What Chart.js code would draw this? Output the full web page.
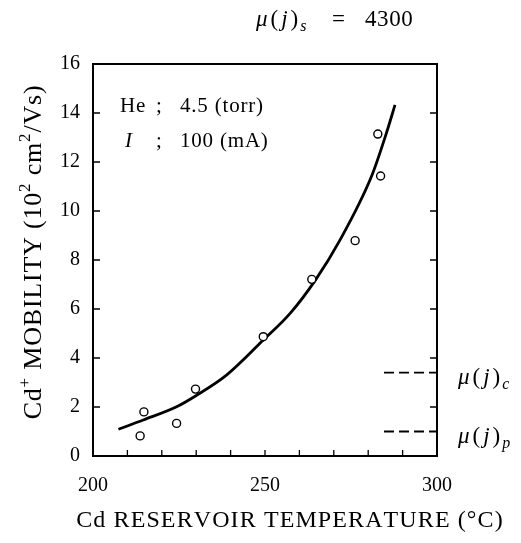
<!DOCTYPE html>
<html>
<head>
<meta charset="utf-8">
<script src="https://cdn.jsdelivr.net/npm/chart.js@4/dist/chart.umd.min.js"></script>
<style>
  html, body { margin: 0; padding: 0; background: #fff; }
  canvas { display: block; }
</style>
</head>
<body>
<canvas id="mobility" width="521" height="543"></canvas>
<script>
// measured Cd+ mobility (10^2 cm^2/Vs) vs reservoir temperature (°C)
const measTemp = [213.7, 214.8, 224.3, 229.8, 249.5, 263.6, 276.2, 282.8, 283.6];
const measMobility = [0.82, 1.80, 1.33, 2.73, 4.87, 7.21, 8.79, 13.14, 11.43];

// smooth curve drawn through the data
const curveTemp = [207.4, 214.6, 224.3, 229.8, 238.9, 249.5, 257.3, 264.8, 271.7, 281.0, 285.2, 287.8];
const curveMobility = [1.09, 1.47, 2.01, 2.45, 3.31, 4.73, 5.82, 7.21, 8.79, 11.43, 13.14, 14.33];

// theoretical levels marked at the right edge
const levelNames = ['c', 'p'];
const levelValues = [3.4, 1.0];
const levelFrom = 284.6;
const levelTo = 300;

const xLabels = [200, 250, 300];
const serif = '"Liberation Serif", "Times New Roman", serif';

const toXY = (xs, ys) => xs.map((v, i) => ({ x: v, y: ys[i] }));

// text drawn glyph by glyph with extra spacing, returns the end x
const spaced = (ctx, text, x, y, sp) => {
  for (const ch of text) {
    ctx.fillText(ch, x, y);
    x += ctx.measureText(ch).width + sp;
  }
  return x;
};
const spacedWidth = (ctx, text, sp) =>
  [...text].reduce((w, ch) => w + ctx.measureText(ch).width + sp, 0);

// mu(j) with a subscript, left edge at x, baseline y
const drawMu = (ctx, x, y, sub, size) => {
  const parts = [
    { t: 'μ', f: `italic ${size}px ${serif}` },
    { t: '(', f: `${size}px ${serif}` },
    { t: 'j', f: `italic ${size}px ${serif}` },
    { t: ')', f: `${size}px ${serif}` }
  ];
  parts.forEach(p => {
    ctx.font = p.f;
    ctx.fillText(p.t, x, y);
    x += ctx.measureText(p.t).width + 3;
  });
  ctx.font = `italic ${Math.round(size * 0.7)}px ${serif}`;
  ctx.fillText(sub, x - 1, y + size * 0.22);
  return x + ctx.measureText(sub).width;
};

// runs of text, some raised as superscripts
const runFont = (r, size) => `${r.sup ? Math.round(size * 0.66) : size}px ${serif}`;
const runsWidth = (ctx, runs, size, sp) => runs.reduce((w, r) => {
  ctx.font = runFont(r, size);
  return w + spacedWidth(ctx, r.t, sp);
}, 0);
const drawRuns = (ctx, runs, x, y, size, sp) => {
  runs.forEach(r => {
    ctx.font = runFont(r, size);
    x = spaced(ctx, r.t, x, r.sup ? y - size * 0.42 : y, sp);
  });
};

const frame = {
  id: 'frame',
  afterDraw(chart) {
    const { ctx, chartArea: a, scales: { x, y } } = chart;
    ctx.save();
    ctx.strokeStyle = '#000';
    ctx.lineWidth = 2;
    ctx.strokeRect(a.left, a.top, a.right - a.left, a.bottom - a.top);

    // inward tick marks
    ctx.lineWidth = 1.3;
    ctx.beginPath();
    x.ticks.forEach(t => {
      const px = x.getPixelForValue(t.value);
      ctx.moveTo(px, a.bottom);
      ctx.lineTo(px, a.bottom - 6);
    });
    y.ticks.forEach(t => {
      const py = y.getPixelForValue(t.value);
      ctx.moveTo(a.left, py);
      ctx.lineTo(a.left + 7, py);
      ctx.moveTo(a.right, py);
      ctx.lineTo(a.right - 7, py);
    });
    ctx.stroke();

    ctx.fillStyle = '#000';
    ctx.textBaseline = 'alphabetic';
    ctx.textAlign = 'left';

    // discharge conditions
    ctx.font = `21px ${serif}`;
    spaced(ctx, 'He', 120, 112, 0.8);
    ctx.fillText(';', 156, 112);
    spaced(ctx, '4.5 (torr)', 180, 112, 0.8);
    ctx.font = `italic 21px ${serif}`;
    ctx.fillText('I', 125, 147);
    ctx.font = `21px ${serif}`;
    ctx.fillText(';', 156, 147);
    spaced(ctx, '100 (mA)', 180, 147, 0.8);

    // level names beside the dashed lines
    levelNames.forEach((n, i) => {
      drawMu(ctx, a.right + 21, y.getPixelForValue(levelValues[i]) + 11, n, 23);
    });

    // mu(j)_s above the frame
    drawMu(ctx, 256, 26, 's', 23);
    ctx.font = `23px ${serif}`;
    ctx.fillText('=', 332, 26);
    spaced(ctx, '4300', 365, 26, 0.6);

    // x axis title
    ctx.font = `24px ${serif}`;
    const xt = 'Cd RESERVOIR TEMPERATURE (°C)';
    spaced(ctx, xt, 290 - spacedWidth(ctx, xt, 1.1) / 2, 527, 1.1);

    // y axis title, read bottom to top
    const size = 26;
    const runs = [
      { t: 'Cd' }, { t: '+', sup: true }, { t: ' MOBILITY (10' }, { t: '2', sup: true },
      { t: ' cm' }, { t: '2', sup: true }, { t: '/Vs)' }
    ];
    const w = runsWidth(ctx, runs, size, 0.8);
    ctx.translate(41, 252);
    ctx.rotate(-Math.PI / 2);
    drawRuns(ctx, runs, -w / 2, 0, size, 0.8);
    ctx.restore();
  }
};

new Chart(document.getElementById('mobility'), {
  data: {
    datasets: [
      {
        type: 'scatter',
        data: toXY(measTemp, measMobility),
        pointStyle: 'circle',
        pointRadius: 4,
        pointBorderWidth: 1.4,
        pointBackgroundColor: '#fff',
        pointBorderColor: '#000',
        order: 1
      },
      {
        type: 'line',
        data: toXY(curveTemp, curveMobility),
        borderColor: '#000',
        borderWidth: 2.8,
        pointRadius: 0,
        cubicInterpolationMode: 'monotone',
        fill: false,
        order: 2
      },
      ...levelValues.map(v => ({
        type: 'line',
        data: [{ x: levelFrom, y: v }, { x: levelTo, y: v }],
        borderColor: '#000',
        borderWidth: 1.8,
        borderDash: [10, 5],
        pointRadius: 0,
        fill: false,
        order: 3
      }))
    ]
  },
  options: {
    responsive: false,
    animation: false,
    events: [],
    layout: { padding: { top: 64, right: 84, left: 0, bottom: 0 } },
    plugins: {
      legend: { display: false },
      title: { display: false },
      tooltip: { enabled: false }
    },
    scales: {
      x: {
        type: 'linear',
        min: 200,
        max: 300,
        afterFit: (scale) => { scale.height = 87; },
        grid: { display: false, drawTicks: false },
        border: { display: false },
        ticks: {
          stepSize: 10,
          autoSkip: false,
          maxRotation: 0,
          padding: 18,
          color: '#000',
          font: { family: serif, size: 20 },
          callback: (v) => xLabels.includes(v) ? String(v) : ''
        }
      },
      y: {
        min: 0,
        max: 16,
        afterFit: (scale) => { scale.width = 93; },
        grid: { display: false, drawTicks: false },
        border: { display: false },
        ticks: {
          stepSize: 2,
          padding: 13,
          color: '#000',
          font: { family: serif, size: 20 }
        }
      }
    }
  },
  plugins: [frame]
});
</script>
</body>
</html>
